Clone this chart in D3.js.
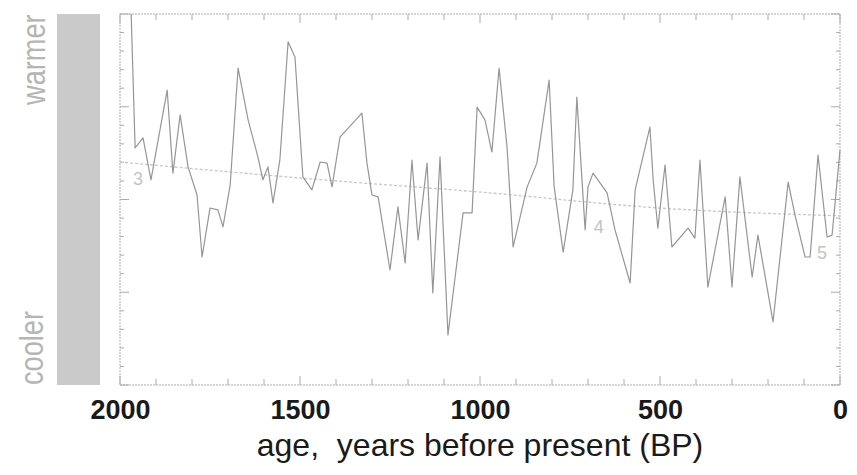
<!DOCTYPE html>
<html>
<head>
<meta charset="utf-8">
<script src="https://cdn.jsdelivr.net/npm/d3@7"></script>
<style>
  html, body { margin: 0; padding: 0; background: #ffffff; }
  svg { display: block; }
</style>
</head>
<body>
<svg id="chart" width="857" height="475"></svg>
<script>
// Temperature proxy record over the last two millennia (relative index, 0 = coolest, 100 = warmest)
const ages = [1969, 1958, 1936, 1914, 1869, 1853, 1833, 1811, 1786, 1772, 1750, 1728, 1714, 1694,
  1672, 1644, 1617, 1603, 1589, 1575, 1556, 1533, 1514, 1492, 1467, 1444, 1425, 1411, 1389,
  1328, 1314, 1300, 1283, 1250, 1228, 1208, 1189, 1172, 1147, 1131, 1111, 1089, 1047, 1022,
  1008, 986, 967, 947, 925, 908, 869, 842, 808, 794, 769, 742, 731, 708, 700, 686, 647, 625,
  583, 569, 528, 519, 506, 486, 467, 422, 403, 389, 367, 319, 300, 278, 244, 228, 186, 144,
  125, 97, 83, 61, 36, 22, 0];
const warmth = [100, 63.9, 66.6, 55.3, 79.5, 57.1, 72.8, 58.8, 51.2, 34.5, 47.7, 47.2, 42.6, 53.9,
  85.4, 71.4, 61.5, 55.3, 58.8, 49.1, 60.6, 92.5, 88.4, 56.1, 52.6, 60.1, 59.8, 53.4, 66.8,
  73.3, 59.8, 51.2, 50.7, 31.0, 48.0, 32.9, 60.6, 39.1, 59.8, 24.8, 61.5, 13.5, 46.4, 46.4,
  74.9, 71.4, 62.8, 85.4, 64.2, 37.2, 53.4, 59.8, 82.2, 53.4, 35.8, 52.6, 77.6, 41.8, 53.4, 57.1, 51.8, 41.8,
  27.5, 52.6, 69.5, 55.3, 42.3, 59.3, 37.2, 42.3, 39.6, 60.6, 26.4, 50.7, 26.4, 56.1, 29.1, 40.4, 17.0, 54.7,
  45.8, 34.5, 34.5, 62.0, 39.9, 40.4, 63.3];

// Long-term trend
const trendAges = [2000, 1500, 1000, 500, 0];
const trendWarmth = [60.1, 55.8, 52.0, 47.7, 45.6];

// Stage numbers written along the trend
const stageLabels = ["3", "4", "5"];
const stageAges = [1950, 670, 50];
const stageWarmth = [54, 41, 34];

const xTicks = [2000, 1500, 1000, 500, 0];
const xLabel = "age,  years before present (BP)";
const warmLabel = "warmer";
const coolLabel = "cooler";

const svg = d3.select("#chart");
const plotLeft = 120, plotRight = 840, plotTop = 14, plotBottom = 385;

const x = d3.scaleLinear().domain([2000, 0]).range([plotLeft, plotRight]);
const y = d3.scaleLinear().domain([0, 100]).range([plotBottom, plotTop]);

const axisColor = "#ababab";
const font = "'Liberation Sans', Arial, sans-serif";

// Warm/cool shaded bar
svg.append("rect")
  .attr("x", 57).attr("y", y(100))
  .attr("width", 43).attr("height", y(0) - y(100))
  .attr("fill", "#cacaca");

// Side labels
svg.append("text")
  .attr("transform", `translate(45,${y(100) + 91}) rotate(-90) scale(0.8,1)`)
  .attr("font-family", font).attr("font-size", 34)
  .attr("fill", "#b5b5b5")
  .text(warmLabel);
svg.append("text")
  .attr("transform", `translate(43,${y(0)}) rotate(-90) scale(0.8,1)`)
  .attr("font-family", font).attr("font-size", 34)
  .attr("fill", "#b5b5b5")
  .text(coolLabel);

// Plot frame
svg.append("rect")
  .attr("x", plotLeft).attr("y", plotTop)
  .attr("width", plotRight - plotLeft).attr("height", plotBottom - plotTop)
  .attr("fill", "none").attr("stroke", axisColor)
  .attr("stroke-width", 1).attr("stroke-dasharray", "2,1");

// Inward ticks on all four sides
const g = svg.append("g").attr("stroke", axisColor).attr("stroke-width", 1);
const ageTicks = d3.range(0, 2001, 100);
const valTicks = d3.range(0, 101, 5);
ageTicks.forEach(a => {
  const len = a % 500 === 0 ? 9 : 6;
  g.append("line").attr("x1", x(a)).attr("x2", x(a)).attr("y1", plotBottom).attr("y2", plotBottom - len);
  g.append("line").attr("x1", x(a)).attr("x2", x(a)).attr("y1", plotTop).attr("y2", plotTop + len);
});
valTicks.forEach(v => {
  const len = v % 25 === 0 ? 9 : 4;
  g.append("line").attr("x1", plotLeft).attr("x2", plotLeft + len).attr("y1", y(v)).attr("y2", y(v));
  g.append("line").attr("x1", plotRight).attr("x2", plotRight - len).attr("y1", y(v)).attr("y2", y(v));
});

// Bottom tick labels
const axis = d3.axisBottom(x).tickValues(xTicks).tickSize(0).tickPadding(0).tickFormat(d3.format("d"));
const ax = svg.append("g").attr("transform", `translate(0,${plotBottom + 34})`).call(axis);
ax.select(".domain").remove();
ax.selectAll("text")
  .attr("dy", 0)
  .attr("font-family", font)
  .attr("font-size", 27).attr("font-weight", "bold")
  .attr("fill", "#1a1a1a");

svg.append("text")
  .attr("x", (plotLeft + plotRight) / 2).attr("y", 456)
  .attr("text-anchor", "middle")
  .attr("font-family", font)
  .attr("font-size", 32)
  .attr("fill", "#1a1a1a")
  .style("white-space", "pre")
  .text(xLabel);

// Trend line
svg.append("path")
  .datum(trendAges.map((a, i) => [a, trendWarmth[i]]))
  .attr("fill", "none").attr("stroke", "#c8c8c8")
  .attr("stroke-width", 1.3).attr("stroke-dasharray", "3,2")
  .attr("d", d3.line().x(d => x(d[0])).y(d => y(d[1])).curve(d3.curveMonotoneX));

// Stage numbers
stageLabels.forEach((s, i) => {
  svg.append("text")
    .attr("x", x(stageAges[i])).attr("y", y(stageWarmth[i]))
    .attr("text-anchor", "middle")
    .attr("font-family", font)
    .attr("font-size", 18).attr("fill", "#c4c4c4")
    .text(s);
});

// Record
svg.append("path")
  .datum(ages.map((a, i) => [a, warmth[i]]))
  .attr("fill", "none").attr("stroke", "#969696")
  .attr("stroke-width", 1.2).attr("stroke-linejoin", "round")
  .attr("d", d3.line().x(d => x(d[0])).y(d => y(d[1])));
</script>
</body>
</html>
